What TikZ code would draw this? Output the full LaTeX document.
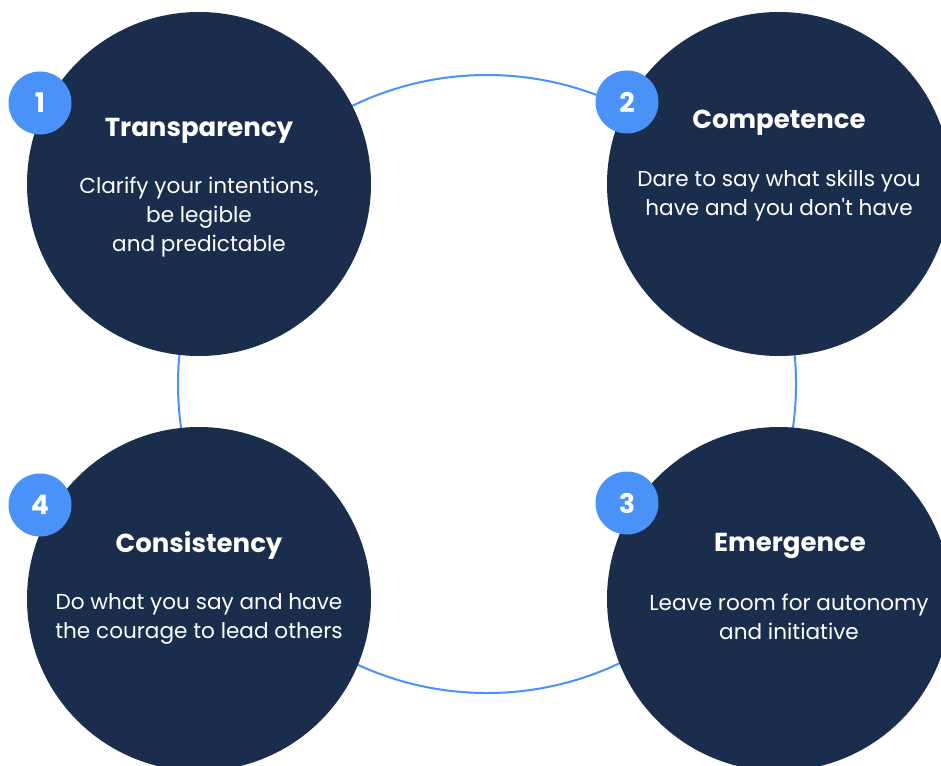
\documentclass[tikz,border=0pt]{standalone}
\usepackage{fontspec}
\setmainfont{Poppins}
\definecolor{navy}{HTML}{1A2D4D}
\definecolor{accent}{HTML}{4A92F7}
\begin{document}
\begin{tikzpicture}[x=1pt,y=-1pt,
  disc/.style={circle,fill=navy,minimum size=344pt,inner sep=0pt},
  badge/.style={circle,fill=accent,minimum size=63pt,inner sep=0pt,text=white,font=\fontsize{27}{27}\selectfont\bfseries},
  title/.style={text=white,font=\fontsize{26}{30}\selectfont\bfseries},
  body/.style={text=white,align=center,font=\fontsize{21.6}{29}\selectfont}]
\useasboundingbox (0,0) rectangle (941,765);
\clip (0,0) rectangle (941,765);
% ring behind the four discs
\node[circle,draw=accent,line width=2pt,minimum size=618pt,inner sep=0pt] (ring) at (487,384) {};
% discs
\node[disc] (d1) at (199,184) {};
\node[disc] (d2) at (779,184) {};
\node[disc] (d4) at (199,599) {};
\node[disc] (d3) at (779,599) {};
% numbered badges
\node[badge] (b1) at (40,103) {1};
\node[badge] (b2) at (627,102) {2};
\node[badge] (b4) at (40,505) {4};
\node[badge] (b3) at (627,503) {3};
% titles
\node[title] (t1) at (199,131) {Transparency};
\node[title] (t2) at (779,123) {Competence};
\node[title] (t4) at (199,546) {Consistency};
\node[title] (t3) at (790,546) {Emergence};
% descriptions
\node[body,anchor=north] (p1) at (199,173) {Clarify your intentions,\\be legible\\and predictable};
\node[body,anchor=north] (p2) at (779,167) {Dare to say what skills you\\have and you don\textquotesingle t have};
\node[body,anchor=north] (p4) at (199,590) {Do what you say and have\\the courage to lead others};
\node[body,anchor=north] (p3) at (789,590) {Leave room for autonomy\\and initiative};
\end{tikzpicture}
\end{document}
